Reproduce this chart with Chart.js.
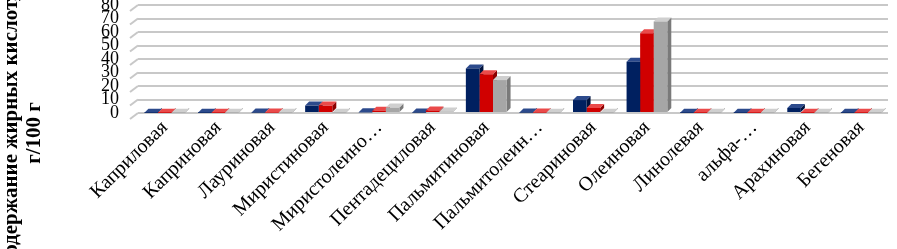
<!DOCTYPE html>
<html>
<head>
<meta charset="utf-8">
<script src="https://cdn.jsdelivr.net/npm/chart.js@4.4.1/dist/chart.umd.min.js"></script>
<style>
    body { margin: 0; background: #fff; }
    #wrap { width: 897px; height: 249px; }
</style>
</head>
<body>
<div id="wrap"><canvas id="acids" width="897" height="249"></canvas></div>
<script>
// fatty acids, g/100 g
const acids = ['Каприловая', 'Каприновая', 'Лауриновая', 'Миристиновая', 'Миристолеино…',
    'Пентадециловая', 'Пальмитиновая', 'Пальмитолеин…', 'Стеариновая', 'Олеиновая',
    'Линолевая', 'альфа-…', 'Арахиновая', 'Бегеновая'];
const sample1 = [0.2, 0.2, 0.3, 5.5, 0.5, 0.3, 33, 0.3, 9.6, 38, 0.2, 0.2, 3.7, 0.2];
const sample2 = [0.2, 0.2, 0.3, 5.5, 1.7, 1.9, 28.7, 0.3, 3.7, 59, 0.2, 0.2, 0.2, 0.2];
const sample3 = [0.2, 0.2, 0.2, 0.2, 4, 1.1, 24.4, 0.2, 0.2, 67.8, 0.2, 0.2, 0.2, 0.2];
const yTicks = [0, 10, 20, 30, 40, 50, 60, 70, 80];

const fronts = ['#002060', '#d00000', '#a6a6a6'];
const tops = ['#2c4a8c', '#ea4a4a', '#cfcfcf'];
const sides = ['#00123c', '#8c0000', '#7a7a7a'];
const DEPTH = 4;

// top and side faces, drawn behind the bars
const depthFaces = {
    id: 'depthFaces',
    beforeDatasetsDraw(chart) {
        const ctx = chart.ctx;
        chart.data.datasets.forEach(function(ds, i){
            chart.getDatasetMeta(i).data.forEach(function(bar){
                const l = bar.x - bar.width / 2, r = bar.x + bar.width / 2;
                const t = bar.y, b = bar.base;
                ctx.fillStyle = sides[i];
                ctx.beginPath();
                ctx.moveTo(r, t); ctx.lineTo(r + DEPTH, t - DEPTH);
                ctx.lineTo(r + DEPTH, b - DEPTH); ctx.lineTo(r, b);
                ctx.closePath(); ctx.fill();
                ctx.fillStyle = tops[i];
                ctx.beginPath();
                ctx.moveTo(l, t); ctx.lineTo(l + DEPTH, t - DEPTH);
                ctx.lineTo(r + DEPTH, t - DEPTH); ctx.lineTo(r, t);
                ctx.closePath(); ctx.fill();
            });
        });
    }
};

// diagonal stubs of the side wall + axis title
const wallAndTitle = {
    id: 'wallAndTitle',
    beforeDatasetsDraw(chart) {
        const ctx = chart.ctx;
        const y = chart.scales.y;
        const left = chart.chartArea.left;
        ctx.save();
        ctx.strokeStyle = '#c8c8c8';
        ctx.lineWidth = 2;
        yTicks.forEach(function(v){
            const py = y.getPixelForValue(v);
            ctx.beginPath();
            ctx.moveTo(left - 8, py + 6);
            ctx.lineTo(left, py);
            ctx.stroke();
        });
        ctx.restore();
    },
    afterDraw(chart) {
        const ctx = chart.ctx;
        ctx.save();
        ctx.fillStyle = '#000';
        ctx.font = 'bold 21px "Liberation Serif"';
        ctx.textAlign = 'center';
        ctx.textBaseline = 'middle';
        ctx.translate(12, 133);
        ctx.rotate(-Math.PI / 2);
        ctx.fillText('Содержание жирных кислот,', 0, 0);
        ctx.fillText('г/100 г', 0, 23);
        ctx.restore();
    }
};

new Chart(document.getElementById('acids'), {
    type: 'bar',
    data: {
        labels: acids,
        datasets: [
            { label: '1', data: sample1, backgroundColor: fronts[0] },
            { label: '2', data: sample2, backgroundColor: fronts[1] },
            { label: '3', data: sample3, backgroundColor: fronts[2] }
        ]
    },
    options: {
        responsive: false,
        animation: false,
        devicePixelRatio: 1,
        layout: { padding: { top: 5, right: 9, left: 0, bottom: 0 } },
        datasets: { bar: { categoryPercentage: 0.76, barPercentage: 1 } },
        plugins: { legend: { display: false }, tooltip: { enabled: false } },
        scales: {
            x: {
                grid: { display: false },
                border: { display: false },
                ticks: {
                    autoSkip: false,
                    maxRotation: 45,
                    minRotation: 45,
                    labelOffset: 0,
                    padding: 2,
                    color: '#000',
                    font: { family: '"Liberation Serif"', size: 20, lineHeight: 0.2 }
                },
                afterFit(scale) {
                    scale.height = 136;
                    scale.paddingTop = 0;
                    scale.paddingBottom = 0;
                }
            },
            y: {
                min: 0,
                max: 80,
                grid: { color: '#c8c8c8', lineWidth: 2, drawTicks: false },
                border: { display: false },
                ticks: {
                    stepSize: 10,
                    autoSkip: false,
                    padding: 19,
                    color: '#000',
                    font: { family: '"Liberation Serif"', size: 18 }
                },
                afterFit(scale) {
                    scale.width = 138;
                    scale.paddingTop = 0;
                    scale.paddingBottom = 0;
                }
            }
        }
    },
    plugins: [depthFaces, wallAndTitle]
});
</script>
</body>
</html>
